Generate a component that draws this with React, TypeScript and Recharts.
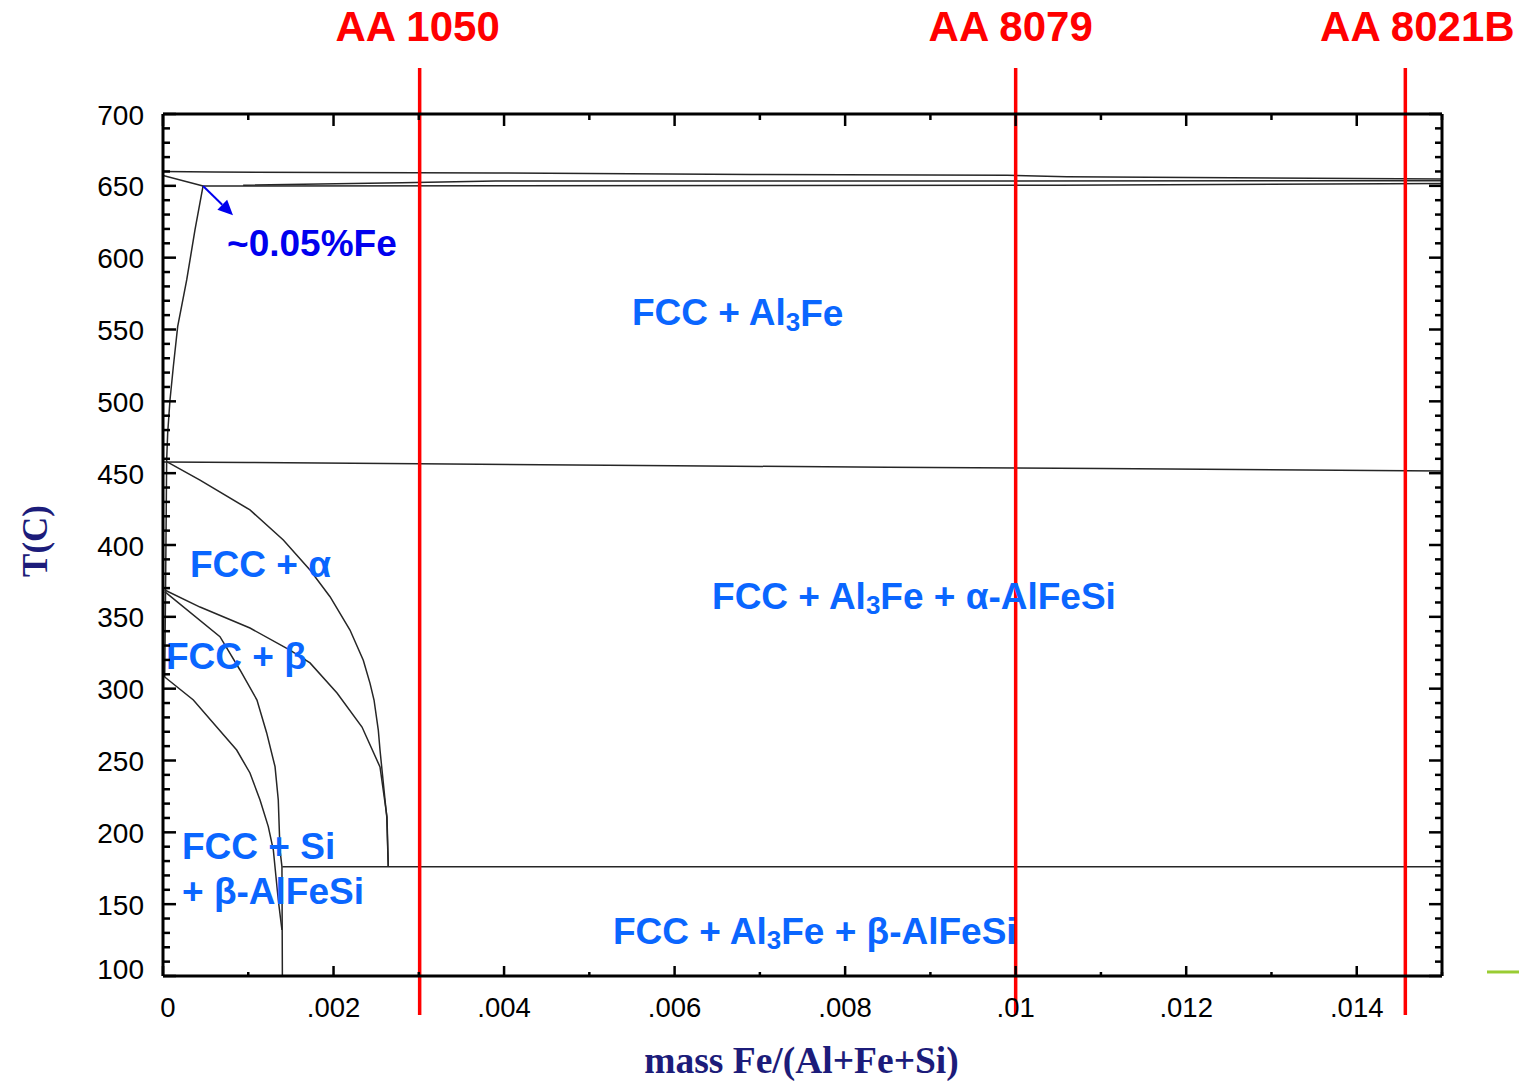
import React from 'react';
import { ComposedChart, Line, XAxis, YAxis, ReferenceLine, ReferenceDot } from 'recharts';

// ---------- data (x = mass Fe/(Al+Fe+Si), y = T in °C) ----------
const liquidusTop = [
  { x: 0, y: 660.0 }, { x: 0.0006, y: 659.6 }, { x: 0.0039, y: 659.0 },
  { x: 0.0069, y: 657.9 }, { x: 0.0099, y: 657.3 }, { x: 0.0106, y: 656.4 }, { x: 0.015, y: 654.8 },
];
const liquidusLeft = [{ x: 0, y: 657.2 }, { x: 0.00047, y: 649.9 }];
const middleLine = [
  { x: 0.00094, y: 650.4 }, { x: 0.0028, y: 652.2 }, { x: 0.0039, y: 653.3 }, { x: 0.015, y: 653.5 },
];
const solidusLine = [
  { x: 0.00047, y: 649.9 }, { x: 0.0105, y: 650.4 }, { x: 0.015, y: 651.6 },
];
const fccSolvus = [
  { x: 0.00047, y: 649.9 }, { x: 0.000375, y: 619.3 }, { x: 0.000278, y: 584.5 },
  { x: 0.000172, y: 552.0 }, { x: 0.000121, y: 524.1 }, { x: 0.000082, y: 500.9 },
  { x: 0.000055, y: 478.0 }, { x: 0.000043, y: 459.2 }, { x: 0.00003, y: 368.7 }, { x: 0.00002, y: 308 },
];
const line450 = [
  { x: 0, y: 457.8 }, { x: 0.001, y: 457.4 }, { x: 0.003, y: 456.6 }, { x: 0.006, y: 455.1 },
  { x: 0.0085, y: 454.2 }, { x: 0.011, y: 453.3 }, { x: 0.015, y: 451.5 },
];
const alphaSolvus = [
  { x: 0.000043, y: 458 }, { x: 0.000434, y: 445.2 }, { x: 0.00102, y: 424.4 },
  { x: 0.001411, y: 403.5 }, { x: 0.001724, y: 382.6 }, { x: 0.001959, y: 364.0 },
  { x: 0.002193, y: 340.8 }, { x: 0.002349, y: 319.8 }, { x: 0.002428, y: 303.7 },
  { x: 0.002475, y: 292.1 }, { x: 0.002525, y: 271.2 }, { x: 0.002545, y: 257.3 },
  { x: 0.002604, y: 222.5 }, { x: 0.002624, y: 210.9 }, { x: 0.002642, y: 176.1 },
];
const betaUpper = [
  { x: 0.00002, y: 368.7 }, { x: 0.000434, y: 356.8 }, { x: 0.00102, y: 342.2 },
  { x: 0.001489, y: 326.9 }, { x: 0.001724, y: 317.9 }, { x: 0.002041, y: 297.0 },
  { x: 0.002334, y: 273.3 }, { x: 0.002545, y: 245.5 }, { x: 0.002627, y: 210.7 }, { x: 0.002642, y: 176.1 },
];
const betaLower = [
  { x: 0.00002, y: 367.5 }, { x: 0.000668, y: 336.2 }, { x: 0.000903, y: 313.0 },
  { x: 0.001102, y: 292.1 }, { x: 0.001216, y: 269.2 }, { x: 0.001314, y: 245.7 },
  { x: 0.001352, y: 222.5 }, { x: 0.001372, y: 187.7 }, { x: 0.001395, y: 176.1 }, { x: 0.0014, y: 100 },
];
const siBoundary = [
  { x: 0.00002, y: 308.1 }, { x: 0.000356, y: 292.1 }, { x: 0.00063, y: 273.3 },
  { x: 0.000864, y: 257.3 }, { x: 0.00102, y: 241.3 }, { x: 0.001138, y: 222.5 },
  { x: 0.001235, y: 204.0 }, { x: 0.001294, y: 187.7 }, { x: 0.001325, y: 169.1 },
  { x: 0.001352, y: 152.9 }, { x: 0.001395, y: 132 },
];
const line176 = [{ x: 0.0014, y: 176.1 }, { x: 0.015, y: 176.1 }];

const boundaries = [
  liquidusTop, liquidusLeft, middleLine, solidusLine, fccSolvus, line450,
  alphaSolvus, betaUpper, betaLower, siBoundary, line176,
];

// alloys (vertical markers)
const alloyNames = ['AA 1050', 'AA 8079', 'AA 8021B'];
const alloyFe = [0.00301, 0.01, 0.01457];
const alloyLabelShift = [-2, -5, 12];

// axis ticks
const xMajorTicks = [0, 0.002, 0.004, 0.006, 0.008, 0.01, 0.012, 0.014];
const xTickLabels = ['0', '.002', '.004', '.006', '.008', '.01', '.012', '.014'];
const xAllTicks = [0, 0.001, 0.002, 0.003, 0.004, 0.005, 0.006, 0.007, 0.008, 0.009, 0.01, 0.011, 0.012, 0.013, 0.014, 0.015];
const yMajorTicks = [100, 150, 200, 250, 300, 350, 400, 450, 500, 550, 600, 650, 700];
const yAllTicks: number[] = [];
for (let t = 100; t <= 700; t += 10) yAllTicks.push(t);

// annotation anchors (data coordinates: left edge, vertical centre)
const arrowFrom = { x: 0.00047, y: 649.9 };
const arrowTo = { x: 0.000821, y: 629.6 };
const regionAnchors = {
  feNote: { x: 0.000751, y: 610.2 },
  al3fe: { x: 0.0055, y: 561.5 },
  alpha: { x: 0.000317, y: 386.1 },
  beta: { x: 0.0000352, y: 322.7 },
  si1: { x: 0.000223, y: 189.8 },
  si2: { x: 0.000223, y: 158.5 },
  alphaAlFeSi: { x: 0.006439, y: 364.5 },
  betaAlFeSi: { x: 0.005277, y: 131.3 },
};
const strayMarkY = 102.8;

// ---------- styling ----------
const SANS = '"Liberation Sans", Arial, Helvetica, sans-serif';
const SERIF = '"Liberation Serif", "Times New Roman", serif';
const LABEL_BLUE = '#0a66ff';
const NAVY = '#1c1c7a';

const isMajorX = (v: number) => xMajorTicks.some((m) => Math.abs(m - v) < 1e-9);
const isMajorY = (v: number) => yMajorTicks.includes(v);

const BottomTick = (props: any) => {
  const { x, y, payload } = props;
  const v = payload.value;
  const major = isMajorX(v);
  const idx = xMajorTicks.findIndex((m) => Math.abs(m - v) < 1e-9);
  return (
    <g>
      <line x1={x} x2={x} y1={y} y2={y - (major ? 10 : 4)} stroke="#000" strokeWidth={2.5} />
      {major && (
        <text x={x + (v === 0 ? 5 : 0)} y={y + 31} textAnchor="middle" dominantBaseline="central"
          fontFamily={SANS} fontSize={27.5} fill="#000">
          {xTickLabels[idx]}
        </text>
      )}
    </g>
  );
};
const TopTick = (props: any) => {
  const { x, y, payload } = props;
  const major = isMajorX(payload.value);
  return <line x1={x} x2={x} y1={y} y2={y + (major ? 12 : 6)} stroke="#000" strokeWidth={2.5} />;
};
const LeftTick = (props: any) => {
  const { x, y, payload } = props;
  const v = payload.value;
  const major = isMajorY(v);
  return (
    <g>
      <line x1={x} x2={x + (major ? 13 : 7)} y1={y} y2={y} stroke="#000" strokeWidth={2.5} />
      {major && (
        <text x={x - 19} y={y + (v === 100 ? -7 : 1)} textAnchor="end" dominantBaseline="central"
          fontFamily={SANS} fontSize={28} fill="#000">
          {v}
        </text>
      )}
    </g>
  );
};
const RightTick = (props: any) => {
  const { x, y, payload } = props;
  const major = isMajorY(payload.value);
  return <line x1={x} x2={x - (major ? 13 : 7)} y1={y} y2={y} stroke="#000" strokeWidth={2.5} />;
};

const makeAlloyLine = (name: string, shift: number) => (p: any) => {
  const top = Math.min(p.y1, p.y2) - 46;
  const bottom = Math.max(p.y1, p.y2) + 39;
  return (
    <g>
      <line x1={p.x1} x2={p.x2} y1={top} y2={bottom} stroke="#ff0000" strokeWidth={3.5} />
      <text x={p.x1 + shift} y={top - 27} textAnchor="middle" fontFamily={SANS} fontWeight="bold"
        fontSize={42} fill="#ff0000">
        {name}
      </text>
    </g>
  );
};

const ArrowShape = (p: any) => {
  const { x1, y1, x2, y2 } = p;
  const ang = Math.atan2(y2 - y1, x2 - x1);
  const L = 15, Wd = 7;
  const bx = x2 - L * Math.cos(ang), by = y2 - L * Math.sin(ang);
  const px = -Math.sin(ang) * Wd, py = Math.cos(ang) * Wd;
  return (
    <g>
      <line x1={x1} y1={y1} x2={bx} y2={by} stroke="#0000ee" strokeWidth={2} />
      <polygon points={`${x2},${y2} ${bx + px},${by + py} ${bx - px},${by - py}`} fill="#0000ee" />
    </g>
  );
};

const StrayMark = (p: any) => {
  const right = Math.max(p.x1, p.x2);
  return <line x1={right + 45} x2={right + 77} y1={p.y1} y2={p.y2} stroke="#99cc33" strokeWidth={3} />;
};

const textProps = {
  fontFamily: SANS,
  fontWeight: 'bold' as const,
  fontSize: 37,
  dominantBaseline: 'central' as const,
};

const regionText = (content: React.ReactNode, color = LABEL_BLUE, size = 37) => (p: any) => (
  <text x={p.cx} y={p.cy} fill={color} {...textProps} fontSize={size}>
    {content}
  </text>
);

const Al3 = () => (
  <>
    Al<tspan fontSize={26} dy={9}>3</tspan><tspan dy={-9}>Fe</tspan>
  </>
);

const regionShapes: { anchor: { x: number; y: number }; shape: (p: any) => React.ReactElement }[] = [
  { anchor: regionAnchors.feNote, shape: regionText('~0.05%Fe', '#0000ee', 37) },
  { anchor: regionAnchors.al3fe, shape: regionText(<>FCC + <Al3 /></>) },
  { anchor: regionAnchors.alpha, shape: regionText('FCC + α') },
  { anchor: regionAnchors.beta, shape: regionText('FCC + β') },
  { anchor: regionAnchors.si1, shape: regionText('FCC + Si') },
  { anchor: regionAnchors.si2, shape: regionText('+ β-AlFeSi') },
  { anchor: regionAnchors.alphaAlFeSi, shape: regionText(<>FCC + <Al3 /> + α-AlFeSi</>) },
  { anchor: regionAnchors.betaAlFeSi, shape: regionText(<>FCC + <Al3 /> + β-AlFeSi</>) },
];

const XTitle = (p: any) => {
  const vb = p.viewBox || { x: 163, y: 976, width: 1279, height: 105 };
  return (
    <text x={vb.x + vb.width / 2 - 1} y={vb.y + 97} textAnchor="middle" fontFamily={SERIF}
      fontWeight="bold" fontSize={37.5} fill={NAVY}>
      mass Fe/(Al+Fe+Si)
    </text>
  );
};
const YTitle = (p: any) => {
  const vb = p.viewBox || { x: 0, y: 114, width: 163, height: 862 };
  const cx = vb.x + 35, cy = vb.y + vb.height / 2 - 4;
  return (
    <text x={cx} y={cy} transform={`rotate(-90, ${cx}, ${cy})`} textAnchor="middle"
      dominantBaseline="central" fontFamily={SERIF} fontWeight="bold" fontSize={35} fill={NAVY}>
      T(C)
    </text>
  );
};

export default function App() {
  return (
    <div style={{ position: 'absolute', left: 0, top: 0, width: 1519, height: 1081, background: '#fff' }}>
      <ComposedChart width={1519} height={1081} margin={{ top: 113, right: 76, bottom: 0, left: 0 }}>
        <XAxis dataKey="x" type="number" domain={[0, 0.015]} ticks={xAllTicks} interval={0}
          allowDataOverflow tickSize={0} tickMargin={0} tick={<BottomTick />} height={105}
          axisLine={{ stroke: '#000', strokeWidth: 3 }} tickLine={false} label={<XTitle />} />
        <XAxis xAxisId="top" dataKey="x" orientation="top" type="number" domain={[0, 0.015]} ticks={xAllTicks}
          interval={0} allowDataOverflow tickSize={0} tickMargin={0} tick={<TopTick />} height={1}
          axisLine={{ stroke: '#000', strokeWidth: 3 }} tickLine={false} />
        <YAxis type="number" domain={[100, 700]} ticks={yAllTicks} interval={0} allowDataOverflow
          tickSize={0} tickMargin={0} tick={<LeftTick />} width={163}
          axisLine={{ stroke: '#000', strokeWidth: 3 }} tickLine={false} label={<YTitle />} />
        <YAxis yAxisId="right" orientation="right" type="number" domain={[100, 700]} ticks={yAllTicks}
          interval={0} allowDataOverflow tickSize={0} tickMargin={0} tick={<RightTick />} width={1}
          axisLine={{ stroke: '#000', strokeWidth: 3 }} tickLine={false} />

        {boundaries.map((d, i) => (
          <Line key={i} data={d} dataKey="y" type="linear" stroke="#262626" strokeWidth={1.5}
            dot={false} activeDot={false} isAnimationActive={false} />
        ))}
        <Line xAxisId="top" yAxisId="right" data={line176} dataKey="y" type="linear" stroke="none"
          dot={false} activeDot={false} isAnimationActive={false} legendType="none" />

        {regionShapes.map((r, i) => (
          <ReferenceDot key={'r' + i} x={r.anchor.x} y={r.anchor.y} r={0} shape={r.shape} ifOverflow="visible" />
        ))}

        <ReferenceLine segment={[arrowFrom, arrowTo]} shape={ArrowShape} ifOverflow="visible" />

        {alloyFe.map((fe, i) => (
          <ReferenceLine key={'a' + i} x={fe} shape={makeAlloyLine(alloyNames[i], alloyLabelShift[i])}
            ifOverflow="visible" />
        ))}

        <ReferenceLine y={strayMarkY} shape={StrayMark} ifOverflow="visible" />
      </ComposedChart>
    </div>
  );
}
